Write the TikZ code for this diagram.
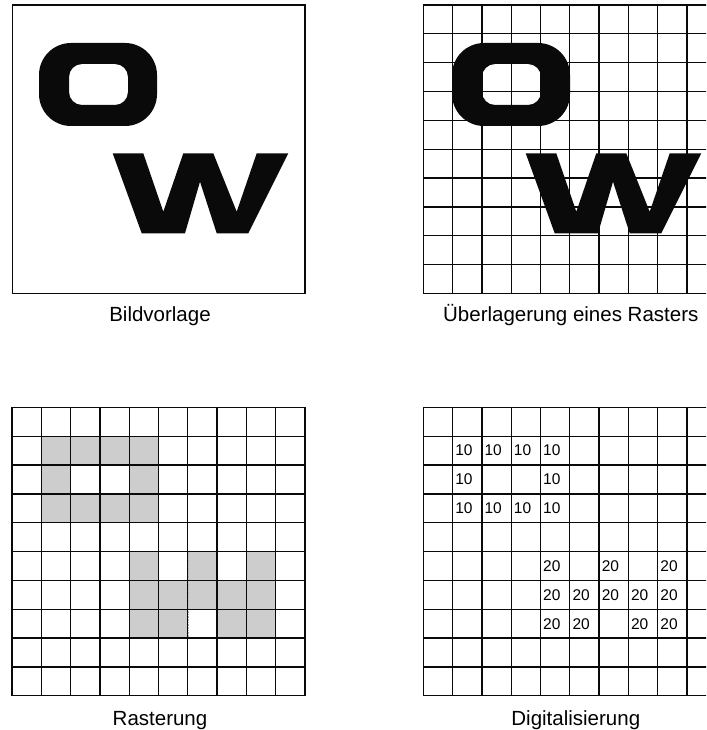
\documentclass[tikz,border=0pt]{standalone}
\usepackage{fontspec}
\usepackage{tikz}
\newfontfamily\rasterfont{Liberation Sans}
\definecolor{ink}{HTML}{0A0A0A}
\definecolor{dotfill}{HTML}{CDCDCD}
\newcommand{\cellw}{29.3}
\newcommand{\cellh}{28.85}
% one raster of 10x10 cells, upper left corner at (#1,#2)
\newcommand{\rastergrid}[2]{%
  \foreach \i in {0,...,10} {
    \draw[rasterline] ({#1+\i*\cellw},#2) -- ({#1+\i*\cellw},{#2+10*\cellh});
    \draw[rasterline] (#1,{#2+\i*\cellh}) -- ({#1+10*\cellw},{#2+\i*\cellh});
  }}
% the two letters, shifted by #1
\newcommand{\letterOW}[1]{%
  \begin{scope}[shift={(#1,0)}]
    \fill[ink, even odd rule]
      (39,43) [rounded corners=32] rectangle (157,126)
      (69,64) [rounded corners=13] rectangle (128,105);
    \fill[ink] (112.7,153.3) -- (143.3,153.3) -- (163.3,211.7) -- (183.3,153.3)
      -- (213.3,153.3) -- (236.7,211.7) -- (256.7,153.3) -- (288.3,153.3)
      -- (248.3,233.3) -- (216.7,233.3) -- (200,181.7) -- (185,233.3)
      -- (141.7,233.3) -- cycle;
  \end{scope}}
\tikzset{
  rasterline/.style={draw=ink, line width=1.3pt},
  caption/.style={anchor=base, inner sep=0pt, font=\rasterfont\fontsize{20.5}{24}\selectfont},
  grayval/.style={anchor=west, inner sep=0pt, font=\rasterfont\fontsize{15.5}{18}\selectfont},
  pixel/.style={fill=dotfill, draw=gray!60, densely dotted, line width=0.6pt}
}
\begin{document}
\begin{tikzpicture}[x=1pt, y=-1pt]
\useasboundingbox (0,0) rectangle (706,730);
\clip (0,0) rectangle (706,730);
\fill[white] (0,0) rectangle (706,730);

% Bildvorlage
\draw[rasterline] (12.5,5) rectangle (305,293.5);
\letterOW{0}
\node[caption] (vorlage) at (160,321.7) {Bildvorlage};

% Ueberlagerung
\letterOW{413}
\rastergrid{423.3}{5}
\node[caption] (raster) at (570.8,321.7) {Überlagerung eines Rasters};

% Rasterung
\foreach \c/\r in {1/1,2/1,3/1,4/1,1/2,4/2,1/3,2/3,3/3,4/3,
                   4/5,6/5,8/5,4/6,5/6,6/6,7/6,8/6,4/7,5/7,7/7,8/7}
  \path[pixel] ({12+\c*\cellw},{407.3+\r*\cellh}) rectangle ++(\cellw,\cellh);
\rastergrid{12}{407.3}
\node[caption] (rasterung) at (160,725) {Rasterung};

% Digitalisierung
\rastergrid{423.3}{407.3}
\foreach \c/\r/\v in {1/1/10,2/1/10,3/1/10,4/1/10,1/2/10,4/2/10,1/3/10,2/3/10,3/3/10,4/3/10,
                      4/5/20,6/5/20,8/5/20,4/6/20,5/6/20,6/6/20,7/6/20,8/6/20,
                      4/7/20,5/7/20,7/7/20,8/7/20}
  \node[grayval] (g\c-\r) at ({423.3+\c*\cellw+2.5},{407.3+(\r+0.5)*\cellh}) {\v};
\node[caption] (digital) at (575.8,725) {Digitalisierung};
\end{tikzpicture}
\end{document}
